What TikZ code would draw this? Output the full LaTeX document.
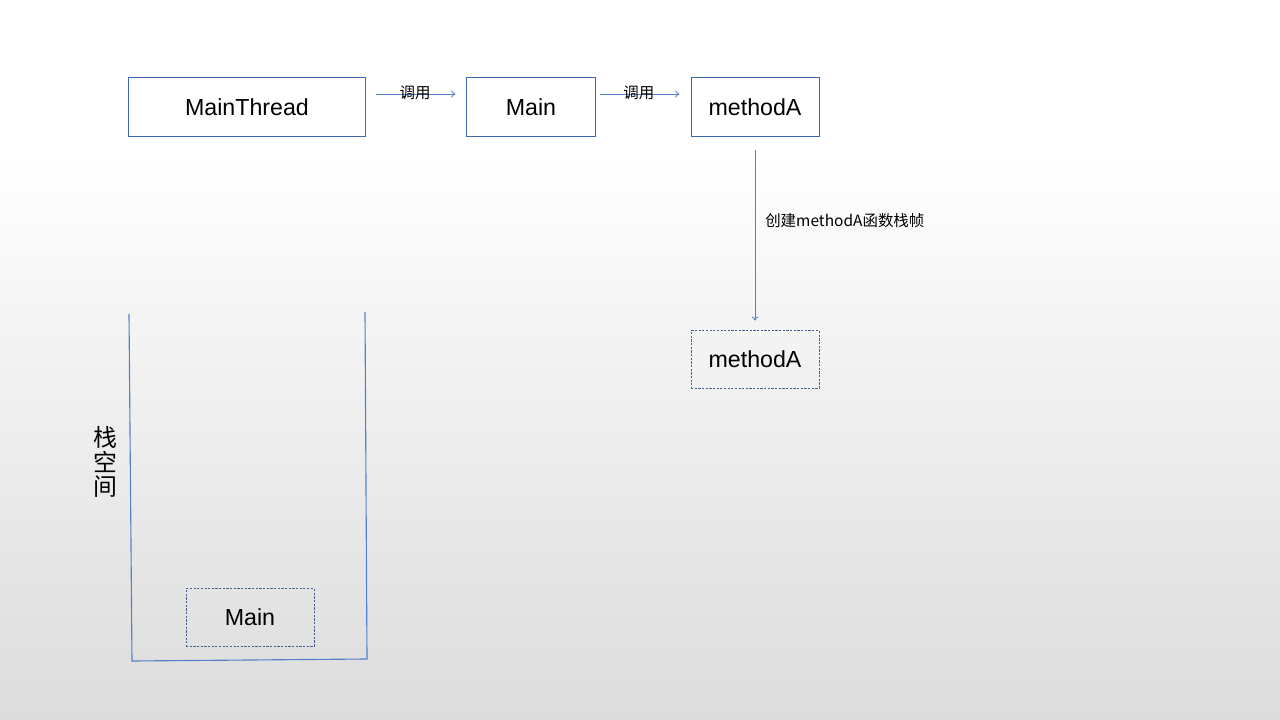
\documentclass[tikz,border=0pt]{standalone}
\usepackage{fontspec}
\setmainfont{Liberation Sans}
\newfontfamily\cjk{Noto Sans CJK SC}
\usetikzlibrary{arrows.meta}
\definecolor{linkblue}{RGB}{84,130,200}
\definecolor{boxblue}{RGB}{62,104,180}
\definecolor{dashblue}{RGB}{72,96,140}
\definecolor{bggray}{RGB}{220,220,220}

\begin{document}
\begin{tikzpicture}[x=0.025cm,y=-0.025cm,
        frame/.style={draw=boxblue,fill=white,line width=0.7pt,minimum height=1.45cm,
            font=\fontsize{16.5}{18}\selectfont},
        stackframe/.style={draw=dashblue,dash pattern=on 1.6pt off 1pt,line width=0.6pt,
            minimum width=3.2cm,minimum height=1.43cm,font=\fontsize{16.5}{18}\selectfont},
        call/.style={draw=linkblue,line width=0.6pt,-{To[length=3pt,width=5pt]}},
        calltag/.style={font=\cjk\fontsize{11}{13}\selectfont,inner sep=0pt},
        stackline/.style={draw=linkblue,line width=0.8pt}
    ]
    \fill[white] (0,0) rectangle (1280,720);
    \shade[top color=white,bottom color=bggray] (0,150) rectangle (1280,720);

    \node[frame,minimum width=5.9cm] (mt) at (247,107) {MainThread};
    \node[frame,minimum width=3.2cm] (mn) at (531,107) {Main};
    \node[frame,minimum width=3.2cm] (ma) at (755,107) {methodA};

    \node[stackframe] (maf) at (755,359.5) {methodA};
    \node[stackframe] (mnf) at (250,617.5) {Main};

    \node[font=\cjk\fontsize{17}{17.7}\selectfont,align=center,inner sep=0pt] (stk) at (105,462) {栈\\空\\间};

    \draw[stackline] (129,314) -- (132,661) -- (367,659) -- (365,312);

    \draw[call,shorten <=7.8pt,shorten >=7.8pt] ([yshift=9.2pt]mt.east) -- ([yshift=9.2pt]mn.west)
        node[calltag,midway,xshift=-0.7pt,yshift=1.2pt] {调用};
    \draw[call,shorten <=3.5pt,shorten >=7.8pt] ([yshift=9.2pt]mn.east) -- ([yshift=9.2pt]ma.west)
        node[calltag,midway,xshift=-3pt,yshift=1.2pt] {调用};
    \draw[call,shorten <=9.9pt,shorten >=7pt] (ma.south) -- (maf.north)
        node[calltag,pos=0.436,anchor=west,xshift=7pt] {创建methodA函数栈帧};
\end{tikzpicture}
\end{document}
